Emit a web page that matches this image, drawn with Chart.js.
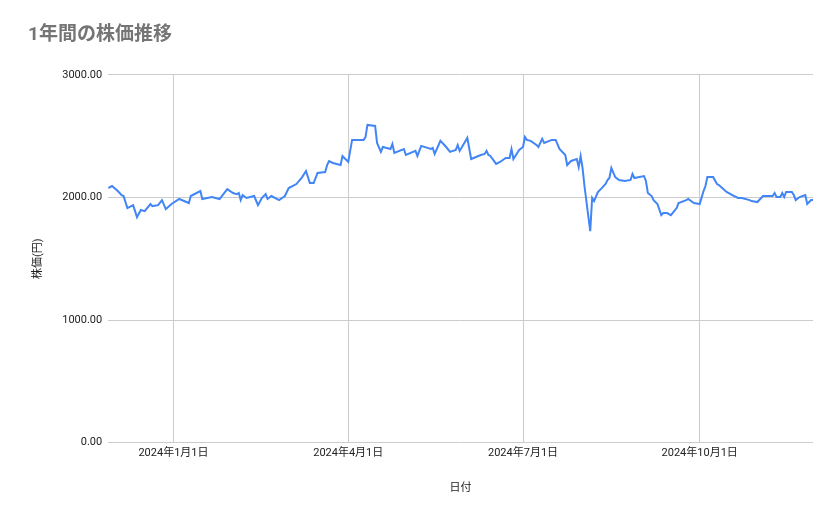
<!DOCTYPE html>
<html>
<head>
<meta charset="utf-8">
<script src="https://cdn.jsdelivr.net/npm/chart.js@4"></script>
<style>
  body { margin: 0; background: #fff; }
  #wrap { width: 839px; height: 519px; position: relative; }
</style>
</head>
<body>
<div id="wrap"><canvas id="chart"></canvas></div>
<script>
// days counted from 2024-01-01
const days = [-34,-32,-29,-27,-26,-24,-21,-19,-17,-15,-12,-11,-8,-6,-4,-1,3,8,9,14,15,20,24,28,31,33,34,35,36,38,42,44,46,48,49,51,55,58,60,64,67,69,70,71,73,75,79,80,81,83,87,88,91,93,99,100,101,105,106,108,109,113,114,115,120,121,126,127,129,134,135,136,139,142,144,147,148,149,153,155,160,162,163,164,165,168,170,173,175,176,177,180,182,183,184,186,189,190,192,193,197,199,201,204,205,207,210,211,212,213,214,217,218,219,221,223,225,226,227,228,230,232,235,238,239,240,245,246,247,249,250,252,254,255,257,259,262,263,267,268,271,274,276,277,278,281,283,284,288,291,294,296,300,301,304,306,307,312,313,314,316,317,318,319,322,323,324,326,329,330,332,333];
const prices = [2076,2093,2052,2019,2011,1913,1937,1839,1897,1888,1946,1929,1937,1978,1905,1946,1987,1954,2011,2052,1987,2003,1987,2068,2036,2027,2036,1978,2019,1995,2011,1937,1995,2027,1987,2011,1978,2011,2076,2109,2166,2215,2166,2117,2117,2199,2207,2264,2297,2281,2264,2338,2289,2469,2469,2493,2591,2583,2444,2371,2411,2395,2436,2363,2395,2346,2379,2338,2420,2395,2403,2354,2461,2411,2371,2387,2428,2379,2485,2313,2346,2354,2379,2346,2338,2273,2289,2322,2322,2395,2313,2387,2411,2493,2469,2461,2428,2411,2477,2444,2469,2469,2395,2346,2264,2297,2313,2248,2338,2240,2093,1725,1995,1970,2044,2076,2109,2142,2158,2240,2166,2142,2134,2142,2191,2158,2174,2134,2036,2011,1978,1946,1855,1872,1872,1855,1913,1954,1978,1987,1954,1946,2052,2093,2166,2166,2109,2101,2044,2019,1995,1995,1978,1970,1962,1995,2011,2011,2036,2003,2003,2036,2003,2044,2044,2019,1978,2003,2019,1946,1978,1978];
const tickDays = [0, 91, 182, 274];
const tickLabels = ['2024年1月1日', '2024年4月1日', '2024年7月1日', '2024年10月1日'];

const font = "Roboto, 'Noto Sans CJK JP', sans-serif";
Chart.defaults.font.family = font;

new Chart(document.getElementById('chart'), {
  type: 'line',
  data: {
    datasets: [{
      data: days.map((d, i) => ({ x: d, y: prices[i] })),
      borderColor: '#4285f4',
      borderWidth: 2,
      pointRadius: 0,
      tension: 0
    }]
  },
  options: {
    responsive: true,
    maintainAspectRatio: false,
    animation: false,
    layout: { padding: { left: 28, right: 26, top: 10, bottom: 20 } },
    plugins: {
      legend: { display: false },
      tooltip: { enabled: false },
      title: {
        display: true,
        text: '1年間の株価推移',
        align: 'start',
        color: '#757575',
        font: { size: 19, weight: 'bold', family: font },
        padding: { top: 14, bottom: 28 }
      }
    },
    scales: {
      x: {
        type: 'linear',
        min: -34,
        max: 333,
        afterBuildTicks: axis => { axis.ticks = tickDays.map(v => ({ value: v })); },
        ticks: {
          color: '#222',
          font: { size: 11 },
          maxRotation: 0,
          padding: 4,
          callback: v => tickLabels[tickDays.indexOf(v)]
        },
        grid: { color: '#cccccc', drawTicks: false },
        border: { display: false },
        title: { display: true, text: '日付', color: '#222', font: { size: 11 }, padding: { top: 18 } }
      },
      y: {
        min: 0,
        max: 3000,
        ticks: {
          stepSize: 1000,
          color: '#222',
          font: { size: 11 },
          padding: 6,
          callback: v => v.toFixed(2)
        },
        grid: { color: '#cccccc', drawTicks: false },
        border: { display: false },
        title: { display: true, text: '株価(円)', color: '#222', font: { size: 11 }, padding: { bottom: 11 } }
      }
    }
  }
});
</script>
</body>
</html>
